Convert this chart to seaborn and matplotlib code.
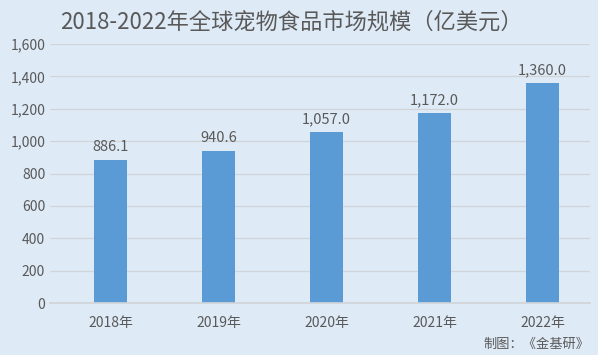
import matplotlib
matplotlib.use("Agg")
import matplotlib.pyplot as plt
import seaborn as sns
import pandas as pd
from matplotlib.ticker import FuncFormatter

years = ["2018年", "2019年", "2020年", "2021年", "2022年"]
values = [886.1, 940.6, 1057.0, 1172.0, 1360.0]
title = "2018-2022年全球宠物食品市场规模（亿美元）"
source = "制图：《金基研》"

sns.set_theme(style="white")
plt.rcParams['font.family'] = ['Noto Sans CJK SC', 'DejaVu Sans']

bg = "#DEEAF6"
bar_color = "#5B9BD5"
text_color = "#595959"

df = pd.DataFrame({"year": years, "value": values})

fig = plt.figure(figsize=(5.98, 3.55), dpi=100, facecolor=bg)
ax = fig.add_axes([0.0836, 0.146, 0.903, 0.730])
ax.set_facecolor(bg)

sns.barplot(data=df, x="year", y="value", color=bar_color, width=0.31,
            saturation=1, linewidth=0, edgecolor=bar_color, ax=ax)

ax.set_ylim(0, 1600)
ax.set_yticks(range(0, 1601, 200))
ax.yaxis.set_major_formatter(FuncFormatter(lambda v, p: f"{int(v):,}"))
ax.grid(axis="y", color="#D0D5DA", linewidth=0.9)
ax.set_axisbelow(True)
for s in ["top", "right", "left"]:
    ax.spines[s].set_visible(False)
ax.spines["bottom"].set_color("#D0D5DA")
ax.tick_params(axis="both", length=0, colors=text_color, labelsize=10)
ax.tick_params(axis="x", pad=9)
ax.set_xlabel("")
ax.set_ylabel("")
ax.set_xlim(-0.56, 4.44)

for i, v in enumerate(values):
    ax.text(i, v + 35, f"{v:,.1f}", ha="center", va="bottom",
            fontsize=10.5, color=text_color)

fig.text(0.487, 0.938, title, ha="center", va="center", fontsize=16,
         color=text_color)
fig.text(0.985, 0.03, source, ha="right", va="center", fontsize=9.5,
         color=text_color)

fig.savefig("out.png", dpi=100, facecolor=bg)
